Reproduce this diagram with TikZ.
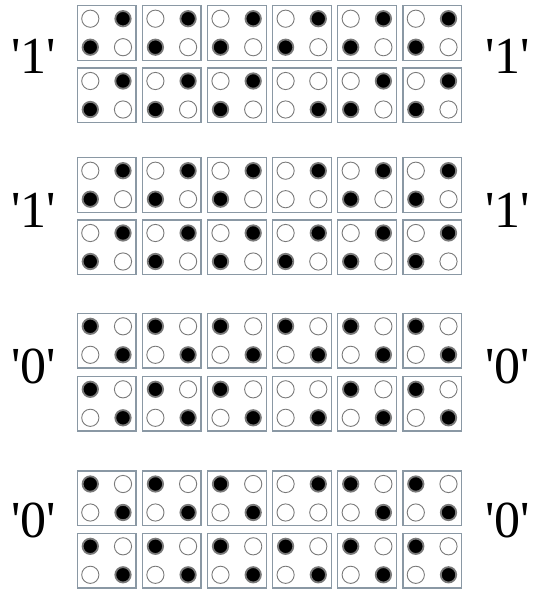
\documentclass[tikz,border=0pt]{standalone}
\usepackage{xcolor}
\usepackage{fontspec}
\usepackage{tikz}
\newfontfamily\etiketFont{Liberation Serif}
\definecolor{cerceveGri}{HTML}{8A98A4}
\definecolor{noktaGri}{HTML}{7A7A7A}
\tikzset{
  hucre/.style={draw=cerceveGri,line width=1.4pt},
  doluNokta/.style={draw=noktaGri,line width=1.8pt,fill=black},
  bosNokta/.style={draw=noktaGri,line width=0.9pt,fill=white},
  etiket/.style={inner sep=0pt,font=\etiketFont\fontsize{52}{52}\selectfont}
}
% one dot of a cell: offset x, offset y, 1 = filled
\newcommand{\noktaCiz}[3]{\ifnum#3=1 \draw[doluNokta] (\hx+#1,\hy+#2) circle[radius=7.7pt];\else \draw[bosNokta] (\hx+#1,\hy+#2) circle[radius=8.6pt];\fi}
% bits TL TR BL BR
\def\noktaBit#1#2#3#4\relax{\noktaCiz{13}{13}{#1}\noktaCiz{45.7}{13}{#2}\noktaCiz{13}{41.5}{#3}\noktaCiz{45.7}{41.5}{#4}}

\begin{document}
\begin{tikzpicture}[x=1pt,y=-1pt]
\useasboundingbox (0,0) rectangle (533,590);
% rows of cells
\foreach \hy/\kodlar in {5.7/{0110,0110,0110,0110,0110,0110},
                         68/{0110,0110,0110,0001,0110,0110},
                         157.7/{0110,0110,0110,0100,0110,0110},
                         220/{0110,0110,0110,0110,0110,0110},
                         313.3/{1001,1001,1001,1001,1001,1001},
                         376.3/{1001,1001,1001,0001,1001,1001},
                         471/{1001,1001,1001,0100,1001,1001},
                         533.3/{1001,1001,1001,1001,1001,1001}}{
  \foreach \k [count=\i from 0] in \kodlar {
    \pgfmathsetmacro\hx{77.3+65.1*\i}
    \draw[hucre] (\hx,\hy) rectangle ++(58.7,54.5);
    \expandafter\noktaBit\k\relax
  }
}
% bit labels
\foreach \n/\gy/\b in {1/73/1, 2/227/1, 3/383/0, 4/537/0}{
  \node[etiket,anchor=base west] (sol\n) at (11,\gy) {'\b'};
  \node[etiket,anchor=base west] (sag\n) at (485,\gy) {'\b'};
}
\end{tikzpicture}
\end{document}
